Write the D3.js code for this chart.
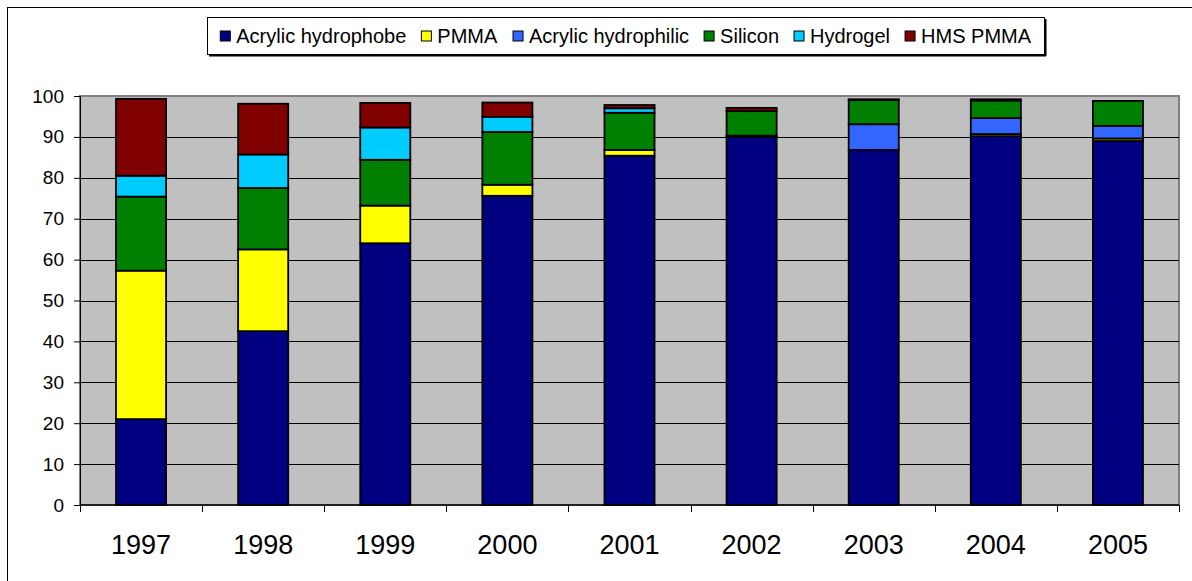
<!DOCTYPE html>
<html>
<head>
<meta charset="utf-8">
<script src="https://cdn.jsdelivr.net/npm/d3@7"></script>
<style>
  body { margin: 0; background: #fff; }
  text { font-family: "Liberation Sans", Arial, sans-serif; fill: #000; }
</style>
</head>
<body>
<script>
var years = ['1997', '1998', '1999', '2000', '2001', '2002', '2003', '2004', '2005'];
var seriesNames = ['Acrylic hydrophobe', 'PMMA', 'Acrylic hydrophilic', 'Silicon', 'Hydrogel', 'HMS PMMA'];
var seriesColors = ['#000080', '#ffff00', '#3366ff', '#008000', '#00ccff', '#800000'];

var acrylicHydrophobe  = [21, 42.5, 64, 75.6, 85.4, 90, 86.8, 90.2, 89];
var pmma               = [36.3, 20, 9.2, 2.7, 1.4, 0.3, 0, 0.5, 0.6];
var acrylicHydrophilic = [0, 0, 0, 0, 0, 0, 6.3, 3.9, 3.1];
var silicon            = [18.1, 15, 11.2, 12.9, 9.1, 6, 5.9, 4.3, 6.1];
var hydrogel           = [5.1, 8.2, 7.9, 3.7, 1.1, 0, 0, 0, 0];
var hmsPmma            = [18.8, 12.4, 6, 3.5, 0.8, 0.8, 0.2, 0.3, 0];

var yTicks = [0, 10, 20, 30, 40, 50, 60, 70, 80, 90, 100];

var width = 1192;
var height = 581;

var plotLeft = 80, plotRight = 1179, plotTop = 96, plotBottom = 505;

// table for d3.stack
var allSeries = [acrylicHydrophobe, pmma, acrylicHydrophilic, silicon, hydrogel, hmsPmma];
var table = years.map(function(y, i) {
  var row = { year: y };
  seriesNames.forEach(function(n, k) { row[n] = allSeries[k][i]; });
  return row;
});

var svg = d3.select('body').append('svg')
  .attr('width', width)
  .attr('height', height);

// outer chart border (right and bottom edges run off the page)
svg.append('rect')
  .attr('x', 7.5).attr('y', 7.5)
  .attr('width', width + 20).attr('height', height + 20)
  .attr('fill', 'none')
  .attr('stroke', '#000')
  .attr('stroke-width', 1);

var x = d3.scaleBand()
  .domain(years)
  .range([plotLeft, plotRight])
  .paddingInner(0.59)
  .paddingOuter(0.295);

var xOuter = d3.scaleBand()
  .domain(years)
  .range([plotLeft, plotRight]);

var y = d3.scaleLinear()
  .domain([0, 100])
  .range([plotBottom, plotTop]);

// plot area
svg.append('rect')
  .attr('x', plotLeft).attr('y', plotTop)
  .attr('width', plotRight - plotLeft).attr('height', plotBottom - plotTop)
  .attr('fill', '#c0c0c0')
  .attr('stroke', '#808080')
  .attr('stroke-width', 2);

// gridlines
svg.append('g')
  .selectAll('line')
  .data(yTicks.filter(function(t) { return t > 0 && t < 100; }))
  .join('line')
  .attr('x1', plotLeft).attr('x2', plotRight)
  .attr('y1', function(d) { return Math.round(y(d)) + 0.5; })
  .attr('y2', function(d) { return Math.round(y(d)) + 0.5; })
  .attr('stroke', '#000')
  .attr('stroke-width', 1);

// bars
var stacked = d3.stack().keys(seriesNames)(table);

svg.append('g')
  .selectAll('g')
  .data(stacked)
  .join('g')
  .attr('fill', function(d, i) { return seriesColors[i]; })
  .selectAll('rect')
  .data(function(d) { return d.filter(function(p) { return p[1] - p[0] > 0; }); })
  .join('rect')
  .attr('x', function(d) { return x(d.data.year); })
  .attr('width', x.bandwidth())
  .attr('y', function(d) { return y(d[1]); })
  .attr('height', function(d) { return y(d[0]) - y(d[1]); })
  .attr('stroke', '#000')
  .attr('stroke-width', 1.8);

// y axis
var yAxis = svg.append('g')
  .attr('transform', 'translate(' + plotLeft + ',0)')
  .call(d3.axisLeft(y).tickValues(yTicks).tickSize(6).tickPadding(10));
yAxis.select('.domain').attr('stroke', '#000');
yAxis.selectAll('line').attr('stroke', '#000');
yAxis.selectAll('text').style('font-size', '19px').attr('fill', '#000');

// x axis
var xAxis = svg.append('g')
  .attr('transform', 'translate(0,' + plotBottom + ')');
xAxis.append('line')
  .attr('x1', plotLeft).attr('x2', plotRight)
  .attr('stroke', '#000').attr('stroke-width', 1.5);
xAxis.selectAll('line.tick')
  .data(d3.range(years.length + 1))
  .join('line')
  .attr('class', 'tick')
  .attr('x1', function(i) { return Math.round(plotLeft + i * xOuter.step()) + 0.5; })
  .attr('x2', function(i) { return Math.round(plotLeft + i * xOuter.step()) + 0.5; })
  .attr('y1', 0).attr('y2', 7)
  .attr('stroke', '#000');
xAxis.selectAll('text')
  .data(years)
  .join('text')
  .attr('x', function(d) { return xOuter(d) + xOuter.bandwidth() / 2; })
  .attr('y', 49)
  .attr('text-anchor', 'middle')
  .style('font-size', '27px')
  .text(function(d) { return d; });

// legend box
svg.append('rect')
  .attr('x', 207.5).attr('y', 17.5)
  .attr('width', 837).attr('height', 37)
  .attr('fill', '#fff')
  .attr('stroke', '#000');
svg.append('line')
  .attr('x1', 209).attr('x2', 1046)
  .attr('y1', 55.5).attr('y2', 55.5)
  .attr('stroke', '#000').attr('stroke-width', 2);
svg.append('line')
  .attr('x1', 1045.5).attr('x2', 1045.5)
  .attr('y1', 19).attr('y2', 56)
  .attr('stroke', '#000').attr('stroke-width', 2);

var legend = svg.append('g');
var items = legend.selectAll('g')
  .data(seriesNames)
  .join('g');
items.append('rect')
  .attr('y', -5)
  .attr('width', 10).attr('height', 10)
  .attr('fill', function(d, i) { return seriesColors[i]; })
  .attr('stroke', '#000');
items.append('text')
  .attr('x', 16).attr('y', 7)
  .style('font-size', '20px')
  .text(function(d) { return d; });

var cursor = 0;
items.each(function() {
  var w = this.getBBox().width;
  d3.select(this).attr('transform', 'translate(' + cursor + ',0)');
  cursor += w + 15;
});
var legW = cursor - 15;
var legX = 626 - legW / 2;
legend.attr('transform', 'translate(' + legX + ',36)');
</script>
</body>
</html>
